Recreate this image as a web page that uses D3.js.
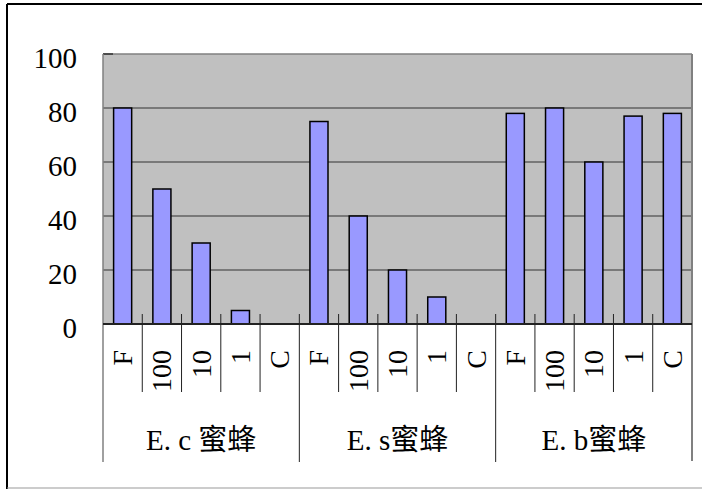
<!DOCTYPE html>
<html>
<head>
<meta charset="utf-8">
<script src="https://cdn.jsdelivr.net/npm/d3@7"></script>
<style>
  body { margin: 0; background: #fff; }
</style>
</head>
<body>
<svg id="chart" width="702" height="489"></svg>
<script>
// data
const groups = ['E. c 蜜蜂', 'E. s蜜蜂', 'E. b蜜蜂'];
const doses = ['F', '100', '10', '1', 'C'];
const ecValues = [80, 50, 30, 5, 0];
const esValues = [75, 40, 20, 10, 0];
const ebValues = [78, 80, 60, 77, 78];
const yTicks = [0, 20, 40, 60, 80, 100];

const seriesByGroup = [ecValues, esValues, ebValues];
const rows = [];
groups.forEach((g, gi) => {
  doses.forEach((d, di) => {
    rows.push({ key: gi + '-' + di, group: g, dose: d, value: seriesByGroup[gi][di] });
  });
});

const serif = "'Liberation Serif', 'Times New Roman', 'DejaVu Serif', 'Noto Sans CJK TC', serif";
const svg = d3.select('#chart').attr('font-family', serif);
const plotL = 103, plotR = 692, plotT = 54, plotB = 324;

// outer frame
svg.append('line').attr('x1', 7).attr('x2', 702).attr('y1', 4).attr('y2', 4)
  .attr('stroke', '#000').attr('stroke-width', 2);
svg.append('line').attr('x1', 7).attr('x2', 7).attr('y1', 4).attr('y2', 489)
  .attr('stroke', '#000').attr('stroke-width', 2);
svg.append('line').attr('x1', 7).attr('x2', 702).attr('y1', 488).attr('y2', 488)
  .attr('stroke', '#999').attr('stroke-width', 1);

const x = d3.scaleBand()
  .domain(rows.map(r => r.key))
  .range([plotL, plotR])
  .paddingInner(0.54)
  .paddingOuter(0.27);
const step = x.step();
const slotStart = key => x(key) - x.paddingOuter() * step;

const y = d3.scaleLinear().domain([0, 100]).range([plotB, plotT]);

// plot area
svg.append('rect')
  .attr('x', plotL).attr('y', plotT)
  .attr('width', plotR - plotL).attr('height', plotB - plotT)
  .attr('fill', '#c0c0c0');

// gridlines
svg.append('g').selectAll('line')
  .data(yTicks.filter(t => t > 0 && t < 100))
  .join('line')
  .attr('x1', plotL).attr('x2', plotR)
  .attr('y1', d => y(d)).attr('y2', d => y(d))
  .attr('stroke', '#333').attr('stroke-width', 1);

// plot top and right border
svg.append('line').attr('x1', plotL).attr('x2', plotR).attr('y1', plotT).attr('y2', plotT)
  .attr('stroke', '#808080').attr('stroke-width', 1.5);
svg.append('line').attr('x1', plotL).attr('x2', plotL + 10).attr('y1', plotT).attr('y2', plotT)
  .attr('stroke', '#333').attr('stroke-width', 1.5);
svg.append('line').attr('x1', plotR).attr('x2', plotR).attr('y1', plotT).attr('y2', 461)
  .attr('stroke', '#808080').attr('stroke-width', 2);

// bars
svg.append('g').selectAll('rect')
  .data(rows.filter(r => r.value > 0))
  .join('rect')
  .attr('x', d => x(d.key))
  .attr('y', d => y(d.value))
  .attr('width', x.bandwidth())
  .attr('height', d => y(0) - y(d.value))
  .attr('fill', '#9999ff')
  .attr('stroke', '#000')
  .attr('stroke-width', 1.5);

// y axis
svg.append('line').attr('x1', plotL).attr('x2', plotL).attr('y1', plotT).attr('y2', 462)
  .attr('stroke', '#808080').attr('stroke-width', 1.5);
svg.append('g').selectAll('text')
  .data(yTicks)
  .join('text')
  .attr('x', 77)
  .attr('y', d => y(d) + 14)
  .attr('text-anchor', 'end')
  .attr('font-size', 29)
  .text(d => d);

// x axis line
svg.append('line').attr('x1', plotL).attr('x2', plotR).attr('y1', plotB).attr('y2', plotB)
  .attr('stroke', '#222').attr('stroke-width', 2);

// category ticks
const tickRows = rows.filter((r, i) => i % doses.length !== 0);
svg.append('g').selectAll('line')
  .data(tickRows)
  .join('line')
  .attr('x1', d => slotStart(d.key))
  .attr('x2', d => slotStart(d.key))
  .attr('y1', plotB - 10).attr('y2', 392)
  .attr('stroke', '#222').attr('stroke-width', 1);

// group separators
const sepRows = rows.filter((r, i) => i > 0 && i % doses.length === 0);
svg.append('g').selectAll('line')
  .data(sepRows)
  .join('line')
  .attr('x1', d => slotStart(d.key))
  .attr('x2', d => slotStart(d.key))
  .attr('y1', plotB - 10).attr('y2', 462)
  .attr('stroke', '#222').attr('stroke-width', 1);

// category labels
svg.append('g').selectAll('text')
  .data(rows)
  .join('text')
  .attr('transform', d => `translate(${x(d.key) + x.bandwidth() / 2},350) rotate(-90)`)
  .attr('text-anchor', 'end')
  .attr('dy', '0.34em')
  .attr('font-size', 28)
  .text(d => d.dose);

// group labels
svg.append('g').selectAll('text')
  .data(groups)
  .join('text')
  .attr('x', (g, gi) => slotStart(gi + '-0') + step * doses.length / 2)
  .attr('y', 450)
  .attr('text-anchor', 'middle')
  .attr('font-size', 29)
  .text(d => d);
</script>
</body>
</html>
